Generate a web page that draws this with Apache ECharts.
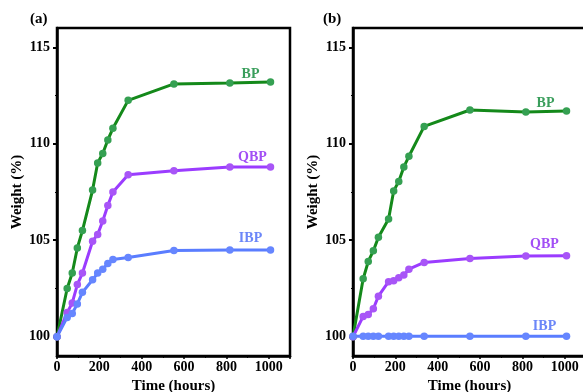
<!DOCTYPE html>
<html>
<head>
<meta charset="utf-8">
<script src="https://cdn.jsdelivr.net/npm/echarts@6/dist/echarts.min.js"></script>
<style>
  html, body { margin: 0; padding: 0; background: #fff; }
  #chart { width: 583px; height: 392px; }
</style>
</head>
<body>
<div id="chart"></div>
<script>
// sampling times (hours), shared by every curve
const times = [0, 48, 72, 96, 120, 168, 192, 216, 240, 264, 336, 552, 816, 1008];

// panel (a)
const bpA  = [100, 102.5, 103.3, 104.6, 105.5, 107.6, 109.0, 109.5, 110.2, 110.8, 112.25, 113.1, 113.15, 113.2];
const qbpA = [100, 101.25, 101.75, 102.7, 103.3, 104.95, 105.3, 106.0, 106.8, 107.5, 108.4, 108.6, 108.8, 108.8];
const ibpA = [100, 101.0, 101.2, 101.7, 102.3, 102.95, 103.3, 103.5, 103.8, 104.0, 104.1, 104.47, 104.5, 104.5];

// panel (b)
const bpB  = [100, 103.0, 103.9, 104.45, 105.15, 106.1, 107.55, 108.05, 108.8, 109.35, 110.9, 111.75, 111.65, 111.7];
const qbpB = [100, 101.05, 101.15, 101.45, 102.1, 102.85, 102.9, 103.05, 103.2, 103.5, 103.85, 104.05, 104.18, 104.2];
const ibpB = [100.02, 100.02, 100.02, 100.02, 100.02, 100.02, 100.02, 100.02, 100.02, 100.02, 100.02, 100.02, 100.02, 100.02];

const yMajorTicks = [100, 105, 110, 115];
const yMinorTicks = [102.5, 107.5, 112.5];

const FONT = '"Liberation Serif", "Times New Roman", serif';
const colors = {
  BP:  { line: '#14891a', mark: '#35a052', text: '#3a9e5c' },
  QBP: { line: '#9b3cff', mark: '#a855f7', text: '#a24ff5' },
  IBP: { line: '#5a7dff', mark: '#6686ff', text: '#6b86f8' }
};

function makeX(gridIndex) {
  return {
    type: 'value', gridIndex, min: 0, max: 1100, interval: 200,
    name: 'Time (hours)', nameLocation: 'middle', nameGap: 19,
    nameTextStyle: { fontFamily: FONT, fontWeight: 'bold', fontSize: 15, color: '#000' },
    axisLine: { show: true, lineStyle: { color: '#000', width: 2.5 } },
    axisTick: { show: true, length: 3, lineStyle: { color: '#000', width: 1.5 } },
    minorTick: { show: true, splitNumber: 2, length: 2, lineStyle: { color: '#000', width: 1 } },
    axisLabel: {
      fontFamily: FONT, fontWeight: 'bold', fontSize: 14, color: '#000', margin: 4,
      formatter: v => (v > 1000 ? '' : String(v))
    },
    splitLine: { show: false }
  };
}

function makeY(gridIndex) {
  return {
    type: 'value', gridIndex, min: 99, max: 116,
    name: 'Weight (%)', nameLocation: 'middle', nameGap: 31, nameRotate: 90,
    nameTextStyle: { fontFamily: FONT, fontWeight: 'bold', fontSize: 15, color: '#000' },
    axisLine: { show: true, lineStyle: { color: '#000', width: 2.5 } },
    axisTick: { show: true, length: 4, customValues: yMajorTicks, lineStyle: { color: '#000', width: 2 } },
    axisLabel: {
      fontFamily: FONT, fontWeight: 'bold', fontSize: 14, color: '#000', margin: 7,
      customValues: yMajorTicks
    },
    splitLine: { show: false }
  };
}

function makeYMinor(gridIndex) {
  return {
    type: 'value', gridIndex, min: 99, max: 116, position: 'left',
    axisLine: { show: false },
    axisTick: { show: true, length: 2, customValues: yMinorTicks, lineStyle: { color: '#000', width: 1 } },
    axisLabel: { show: false },
    splitLine: { show: false }
  };
}

function makeSeries(name, vals, axis, labelOffset) {
  const c = colors[name];
  const data = times.map((t, i) => [t, vals[i]]);
  const last = data.length - 1;
  data[last] = {
    value: data[last],
    label: {
      show: true, position: 'inside', offset: labelOffset, formatter: name,
      fontFamily: FONT, fontWeight: 'bold', fontSize: 14, color: c.text
    }
  };
  return {
    name, type: 'line', xAxisIndex: axis.x, yAxisIndex: axis.y,
    data, symbol: 'circle', symbolSize: 7.5, silent: true,
    lineStyle: { color: c.line, width: 3 },
    itemStyle: { color: c.mark },
    z: 3
  };
}

const chart = echarts.init(document.getElementById('chart'), null, { renderer: 'canvas' });

const gridBase = {
  top: 28, width: 233, height: 328, show: true,
  borderColor: '#000', borderWidth: 2.5, backgroundColor: 'transparent',
  containLabel: false, outerBoundsMode: 'none'
};

const option = {
  animation: false,
  backgroundColor: '#fff',
  grid: [
    Object.assign({ left: 57 }, gridBase),
    Object.assign({ left: 353 }, gridBase)
  ],
  xAxis: [makeX(0), makeX(1)],
  yAxis: [makeY(0), makeYMinor(0), makeY(1), makeYMinor(1)],
  graphic: [
    { type: 'text', left: 30, top: 12, style: { text: '(a)', font: 'bold 15px ' + FONT, fill: '#000' } },
    { type: 'text', left: 323, top: 12, style: { text: '(b)', font: 'bold 15px ' + FONT, fill: '#000' } }
  ],
  series: [
    makeSeries('BP',  bpA,  { x: 0, y: 0 }, [-20, -8]),
    makeSeries('QBP', qbpA, { x: 0, y: 0 }, [-18, -10]),
    makeSeries('IBP', ibpA, { x: 0, y: 0 }, [-20, -11]),
    makeSeries('BP',  bpB,  { x: 1, y: 2 }, [-21, -8]),
    makeSeries('QBP', qbpB, { x: 1, y: 2 }, [-22, -11]),
    makeSeries('IBP', ibpB, { x: 1, y: 2 }, [-22, -10])
  ]
};

chart.setOption(option);

window.addEventListener('resize', () => chart.resize());
</script>
</body>
</html>
